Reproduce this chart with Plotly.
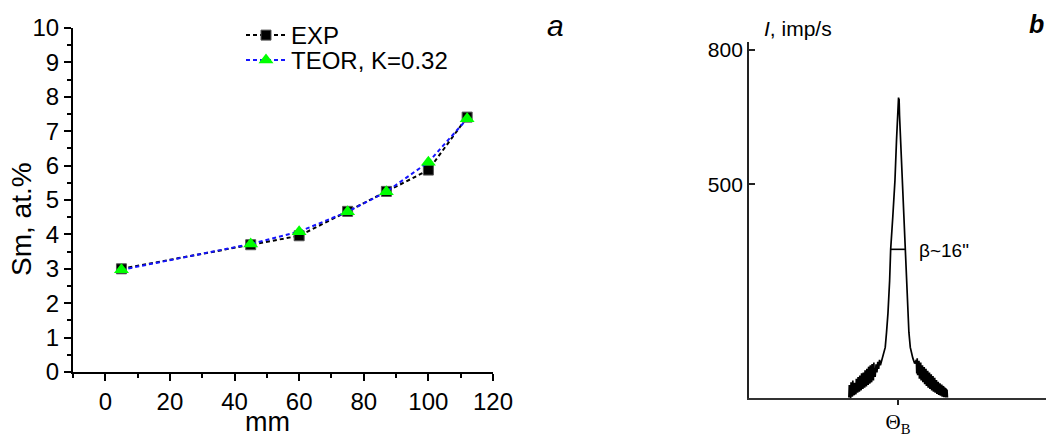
import plotly.graph_objects as go

# ---------------- Panel a data ----------------
position_mm = [5, 45, 60, 75, 87, 100, 112]
sm_exp = [3.0, 3.7, 3.96, 4.67, 5.25, 5.87, 7.41]
sm_teor = [2.97, 3.72, 4.08, 4.66, 5.24, 6.1, 7.36]

# ---------------- Panel b data (rocking curve, arcsec vs imp/s) ----------------
rock_x = [-56, -55.5, -55, -54.5, -54, -53.5, -53, -52.5, -52, -51.5, -51, -50.5, -50, -49.5, -49,
          -48.5, -48, -47.5, -47, -46.5, -46, -45.5, -45, -44.5, -44, -43.5, -43, -42.5, -42, -41.5,
          -41, -40.5, -40, -39.5, -39, -38.5, -38, -37.5, -37, -36.5, -36, -35.5, -35, -34.5, -34,
          -33.5, -33, -32.5, -32, -31.5, -31, -30.5, -30, -29.5, -29, -28.5, -28, -27.5, -27, -26.5,
          -26, -25, -24, -23, -22, -21, -20, -19,
          -17, -15.5, -14.5, -13, -11.4, -9.5, -8.3, -5.8, -3.4, -1.6, -0.5, 0.3, 0.7, 1.0, 1.3, 1.8,
          2.6, 5.0, 8.0, 9.5, 11.1, 12.5, 14.1, 15.3, 17, 19.1,
          21, 21.5, 22, 22.5, 23, 23.5, 24, 24.5, 25, 25.5, 26, 26.5, 27, 27.5, 28, 28.5, 29, 29.5,
          30, 30.5, 31, 31.5, 32, 32.5, 33, 33.5, 34, 34.5, 35, 35.5, 36, 36.5, 37, 37.5, 38, 38.5,
          39, 39.5, 40, 40.5, 41, 41.5, 42, 42.5, 43, 43.5, 44, 44.5, 45, 45.5, 46, 46.5, 47, 47.5,
          48, 48.5, 49, 49.5, 50, 50.5, 51, 51.5, 52, 52.5, 53, 53.5, 54, 54.5, 55, 55.5, 56, 56.5]
rock_I = [24, 52, 26, 40, 23, 58, 30, 44, 26, 62, 33, 41, 29, 57, 38,
          47, 31, 66, 40, 49, 35, 70, 44, 52, 37, 73, 47, 55, 40, 78,
          50, 58, 43, 80, 53, 62, 46, 85, 56, 65, 49, 88, 59, 68, 52, 93,
          62, 71, 55, 96, 65, 75, 58, 99, 68, 79, 62, 102, 72, 84,
          70, 98, 80, 104, 88, 108, 96, 104,
          120, 130, 136, 170, 212, 285, 355, 430, 509, 600, 660, 688, 694, 683, 691, 655,
          620, 509, 355, 285, 212, 170, 136, 122, 112, 100,
          108, 78, 112, 74, 104, 80, 106, 66, 98, 74, 102, 62, 94, 70, 96, 58, 90, 66,
          92, 54, 86, 62, 88, 50, 82, 58, 84, 46, 78, 54, 80, 43, 74, 50, 76, 40,
          70, 47, 72, 37, 66, 44, 68, 35, 62, 41, 63, 32, 58, 38, 59, 30, 55, 35,
          56, 28, 52, 33, 53, 26, 49, 31, 50, 25, 47, 29, 46, 24, 44, 27, 42, 24]
fwhm_x = [-8.3, 8.0]
fwhm_level = 355

W, H = 1046, 436


def px(x):
    return x / W


def py(y):
    return 1 - y / H


fig = go.Figure()

dash = "4px,3px"
fig.add_trace(go.Scatter(
    x=position_mm, y=sm_exp, name="EXP", mode="lines+markers",
    line=dict(color="black", width=2, dash=dash),
    marker=dict(symbol="square", size=10, color="black", line=dict(color="#555", width=1)),
    xaxis="x", yaxis="y", legend="legend"))
fig.add_trace(go.Scatter(
    x=position_mm, y=sm_teor, name="TEOR, K=0.32", mode="lines+markers",
    line=dict(color="#1414ff", width=2, dash=dash),
    marker=dict(symbol="triangle-up", size=13, color="#00ff00", line=dict(width=0)),
    xaxis="x", yaxis="y", legend="legend2"))

fig.add_trace(go.Scatter(
    x=rock_x, y=rock_I, mode="lines", showlegend=False,
    line=dict(color="black", width=1.7),
    xaxis="x2", yaxis="y2"))
fig.add_trace(go.Scatter(
    x=fwhm_x, y=[fwhm_level, fwhm_level], mode="lines", showlegend=False,
    line=dict(color="black", width=1.6),
    xaxis="x2", yaxis="y2"))

tickfont = dict(family="Liberation Sans, Arial, sans-serif", size=24, color="black")
legfont = dict(family="Liberation Sans, Arial, sans-serif", size=24, color="black")

fig.update_layout(
    width=W, height=H, autosize=False,
    margin=dict(l=0, r=0, t=0, b=0, autoexpand=False),
    paper_bgcolor="white", plot_bgcolor="white",
    font=dict(family="Liberation Sans, Arial, sans-serif", color="black"),
    xaxis=dict(
        domain=[px(73), px(493)], range=[-10, 120], anchor="y", automargin=False,
        tick0=0, dtick=20, ticks="outside", ticklen=7, tickwidth=1.8, tickcolor="black",
        minor=dict(dtick=10, tick0=0, ticks="outside", ticklen=4, tickwidth=1.5, tickcolor="black"),
        showline=True, linecolor="black", linewidth=2, showgrid=False, zeroline=False,
        tickfont=tickfont,
    ),
    yaxis=dict(
        domain=[py(372), py(28)], range=[0, 10], anchor="x", automargin=False,
        tick0=0, dtick=1, ticks="outside", ticklen=7, tickwidth=1.8, tickcolor="black",
        minor=dict(dtick=0.5, tick0=0, ticks="outside", ticklen=4, tickwidth=1.5, tickcolor="black"),
        showline=True, linecolor="black", linewidth=2, showgrid=False, zeroline=False,
        tickfont=tickfont,
    ),
    xaxis2=dict(
        domain=[px(749), 1.0], range=[-170, 169], anchor="y2", automargin=False,
        tickvals=[0], ticktext=["Θ<sub>B</sub>"], ticks="outside", ticklen=5, tickwidth=1.5,
        tickcolor="#222", showline=True, linecolor="#333", linewidth=1.8,
        showgrid=False, zeroline=False, ticklabelstandoff=-1,
        tickfont=dict(family="Liberation Serif, DejaVu Serif, serif", size=21, color="black"),
    ),
    yaxis2=dict(
        domain=[py(398), py(42)], range=[23, 818], anchor="x2", automargin=False,
        tickvals=[500, 800], ticks="inside", ticklen=6, tickwidth=1.5, tickcolor="#222",
        showline=True, linecolor="#222", linewidth=1.8, showgrid=False, zeroline=False,
        tickfont=dict(family="Liberation Sans, Arial, sans-serif", size=21, color="black"),
    ),
    legend=dict(
        x=px(241), y=py(13), xanchor="left", yanchor="top", itemwidth=40,
        bgcolor="rgba(0,0,0,0)", borderwidth=0, font=legfont,
    ),
    legend2=dict(
        x=px(241), y=py(38), xanchor="left", yanchor="top", itemwidth=40,
        bgcolor="rgba(0,0,0,0)", borderwidth=0, font=legfont,
    ),
    annotations=[
        dict(text="Sm, at.%", x=px(21), y=py(219), xref="paper", yref="paper",
             textangle=-90, showarrow=False, xanchor="center", yanchor="middle",
             font=dict(size=28, color="black")),
        dict(text="mm", x=px(267), y=py(422), xref="paper", yref="paper",
             showarrow=False, xanchor="center", yanchor="middle",
             font=dict(size=27, color="black")),
        dict(text="<i>a</i>", x=px(555), y=py(26), xref="paper", yref="paper",
             showarrow=False, xanchor="center", yanchor="middle",
             font=dict(size=30, color="black")),
        dict(text="<b><i>b</i></b>", x=1.0, y=py(24), xref="paper", yref="paper",
             showarrow=False, xanchor="right", yanchor="middle",
             font=dict(size=25, color="black")),
        dict(text="<i>I</i>, imp/s", x=px(762), y=py(28), xref="paper", yref="paper",
             showarrow=False, xanchor="left", yanchor="middle",
             font=dict(size=21, color="black")),
        dict(text="β~16\"", x=px(917), y=py(250), xref="paper", yref="paper",
             showarrow=False, xanchor="left", yanchor="middle",
             font=dict(size=19, color="black")),
    ],
)

fig.write_html(
    "out.html",
    post_script="document.body.style.margin='0';document.body.style.overflow='hidden';",
)
